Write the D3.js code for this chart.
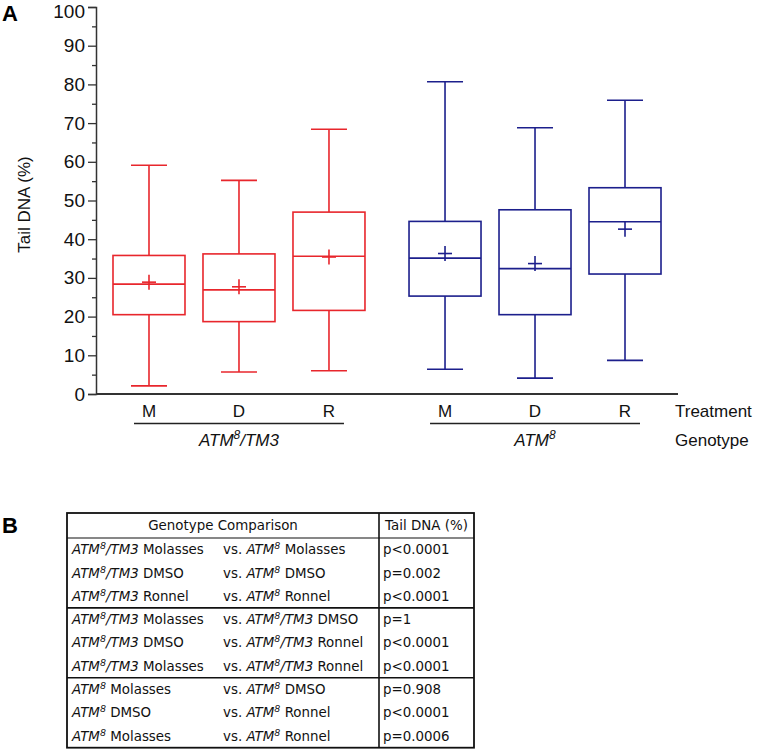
<!DOCTYPE html>
<html>
<head>
<meta charset="utf-8">
<script src="https://cdn.jsdelivr.net/npm/d3@7"></script>
<style>
  html, body { margin: 0; padding: 0; background: #fff; }
  svg { display: block; }
</style>
</head>
<body>
<svg id="chart" width="775" height="749"></svg>
<script>
// ---------- DATA ----------
const genotypes = ["ATM8/TM3", "ATM8"];
const treatments = ["M", "D", "R"];
const boxGenotype = ["ATM8/TM3", "ATM8/TM3", "ATM8/TM3", "ATM8", "ATM8", "ATM8"];
const boxTreatment = ["M", "D", "R", "M", "D", "R"];
const whiskerLow = [2.1, 5.7, 6.0, 6.4, 4.1, 8.7];
const q1Values = [20.5, 18.7, 21.6, 25.3, 20.5, 31.0];
const medianValues = [28.4, 26.9, 35.6, 35.1, 32.4, 44.5];
const q3Values = [35.8, 36.2, 47.0, 44.6, 47.6, 53.3];
const whiskerHigh = [59.1, 55.2, 68.4, 80.7, 68.8, 75.9];
const meanValues = [28.9, 27.7, 35.4, 36.3, 33.7, 42.6];
const yTicks = [0, 10, 20, 30, 40, 50, 60, 70, 80, 90, 100];
const yMinorTicks = [5, 15, 25, 35, 45, 55, 65, 75, 85, 95];

// Table data
const leftGenotype = ["ATM8/TM3", "ATM8/TM3", "ATM8/TM3", "ATM8/TM3", "ATM8/TM3", "ATM8/TM3", "ATM8", "ATM8", "ATM8"];
const leftTreatment = ["Molasses", "DMSO", "Ronnel", "Molasses", "DMSO", "Molasses", "Molasses", "DMSO", "Molasses"];
const rightGenotype = ["ATM8", "ATM8", "ATM8", "ATM8/TM3", "ATM8/TM3", "ATM8/TM3", "ATM8", "ATM8", "ATM8"];
const rightTreatment = ["Molasses", "DMSO", "Ronnel", "DMSO", "Ronnel", "Ronnel", "DMSO", "Ronnel", "Ronnel"];
const pValues = ["p<0.0001", "p=0.002", "p<0.0001", "p=1", "p<0.0001", "p<0.0001", "p=0.908", "p<0.0001", "p=0.0006"];

// ---------- STYLE ----------
const colors = { "ATM8/TM3": "#e8262c", "ATM8": "#1c1f8c" };
const axisColor = "#333";
const chartFont = "'Liberation Sans', Arial, sans-serif";
const tableFont = "'DejaVu Sans', Verdana, sans-serif";

const svg = d3.select("#chart");
svg.append("rect").attr("width", 775).attr("height", 749).attr("fill", "#fff");

// ---------- SCALES ----------
const y = d3.scaleLinear().domain([0, 100]).range([394, 7]);
const xGroup = d3.scaleBand().domain(genotypes).range([104, 670]).paddingInner(0.088).paddingOuter(0);
const xInner = d3.scaleBand().domain(treatments).range([0, xGroup.bandwidth()]).paddingInner(0.2).paddingOuter(0.1);

const axisLeftX = 96, axisRightX = 678;

// ---------- AXES ----------
const yAxis = d3.axisLeft(y).tickValues(yTicks).tickSize(8).tickPadding(3).tickFormat(d3.format("d"));
const gy = svg.append("g").attr("transform", `translate(${axisLeftX},0)`).call(yAxis);
gy.select(".domain").attr("stroke", axisColor).attr("stroke-width", 1.5);
gy.selectAll(".tick line").attr("stroke", axisColor).attr("stroke-width", 1.3);
gy.selectAll(".tick text").attr("font-family", chartFont).attr("font-size", 19).attr("fill", "#111")
  .attr("dy", d => d === 100 ? "0.55em" : "0.32em");

const yMinor = d3.axisLeft(y).tickValues(yMinorTicks).tickSize(4).tickFormat("");
const gym = svg.append("g").attr("transform", `translate(${axisLeftX},0)`).call(yMinor);
gym.select(".domain").remove();
gym.selectAll(".tick line").attr("stroke", axisColor).attr("stroke-width", 1.3);

// x axis line
svg.append("line")
  .attr("x1", axisLeftX).attr("x2", axisRightX)
  .attr("y1", y(0)).attr("y2", y(0))
  .attr("stroke", axisColor).attr("stroke-width", 1.8);

// Y label
svg.append("text")
  .attr("transform", `translate(30,${(y(0) + y(100)) / 2 + 4}) rotate(-90)`)
  .attr("text-anchor", "middle")
  .attr("font-family", chartFont).attr("font-size", 17).attr("fill", "#111")
  .text("Tail DNA (%)");

// Panel letters
svg.append("text").attr("x", 2).attr("y", 21).attr("font-family", chartFont)
  .attr("font-weight", "bold").attr("font-size", 22).attr("fill", "#000").text("A");
svg.append("text").attr("x", 2).attr("y", 533).attr("font-family", chartFont)
  .attr("font-weight", "bold").attr("font-size", 22).attr("fill", "#000").text("B");

// ---------- BOXES ----------
const boxes = boxGenotype.map((g, i) => ({
  g, t: boxTreatment[i], lo: whiskerLow[i], q1: q1Values[i], med: medianValues[i],
  q3: q3Values[i], hi: whiskerHigh[i], mean: meanValues[i]
}));

const bw = xInner.bandwidth();
const boxG = svg.append("g").selectAll("g").data(boxes).join("g")
  .attr("transform", d => `translate(${xGroup(d.g) + xInner(d.t)},0)`)
  .attr("stroke", d => colors[d.g]).attr("stroke-width", 1.6).attr("fill", "none");

// whiskers
boxG.append("line").attr("x1", bw / 2).attr("x2", bw / 2).attr("y1", d => y(d.hi)).attr("y2", d => y(d.q3));
boxG.append("line").attr("x1", bw / 2).attr("x2", bw / 2).attr("y1", d => y(d.q1)).attr("y2", d => y(d.lo));
// caps
boxG.append("line").attr("x1", bw / 4).attr("x2", bw * 3 / 4).attr("y1", d => y(d.hi)).attr("y2", d => y(d.hi));
boxG.append("line").attr("x1", bw / 4).attr("x2", bw * 3 / 4).attr("y1", d => y(d.lo)).attr("y2", d => y(d.lo));
// box
boxG.append("rect").attr("x", 0).attr("width", bw)
  .attr("y", d => y(d.q3)).attr("height", d => y(d.q1) - y(d.q3));
// median
boxG.append("line").attr("x1", 0).attr("x2", bw).attr("y1", d => y(d.med)).attr("y2", d => y(d.med));
// mean plus
boxG.append("line").attr("x1", bw / 2 - 7).attr("x2", bw / 2 + 7).attr("y1", d => y(d.mean)).attr("y2", d => y(d.mean));
boxG.append("line").attr("x1", bw / 2).attr("x2", bw / 2).attr("y1", d => y(d.mean) - 7.5).attr("y2", d => y(d.mean) + 7.5);

// genotype text helper: italic name with superscript allele "8", then optional plain suffix
function addGenotype(textSel, g, suffix, supSize, shift) {
  const parts = g.split("8");
  textSel.append("tspan").attr("font-style", "italic").text(parts[0]);
  textSel.append("tspan").attr("font-style", "italic").attr("font-size", supSize).attr("dy", -shift).text("8");
  let returned = false;
  if (parts[1]) {
    textSel.append("tspan").attr("font-style", "italic").attr("dy", shift).text(parts[1]);
    returned = true;
  }
  if (suffix) {
    const s = textSel.append("tspan").text(suffix);
    if (!returned) s.attr("dy", shift);
  }
}

// ---------- X LABELS ----------
const labelG = svg.append("g").attr("font-family", chartFont).attr("fill", "#111");
genotypes.forEach(g => {
  treatments.forEach(t => {
    labelG.append("text")
      .attr("x", xGroup(g) + xInner(t) + bw / 2).attr("y", 417)
      .attr("text-anchor", "middle").attr("font-size", 17).text(t);
  });
  const gx0 = xGroup(g) + 30, gx1 = xGroup(g) + xGroup.bandwidth() - 30;
  svg.append("line").attr("x1", gx0).attr("x2", gx1).attr("y1", 423.5).attr("y2", 423.5)
    .attr("stroke", "#222").attr("stroke-width", 1.5);
  const gt = labelG.append("text")
    .attr("x", (gx0 + gx1) / 2).attr("y", 446)
    .attr("text-anchor", "middle").attr("font-size", 17);
  addGenotype(gt, g, "", 12, 7);
});
labelG.append("text").attr("x", 675).attr("y", 417).attr("font-size", 17).text("Treatment");
labelG.append("text").attr("x", 675).attr("y", 446).attr("font-size", 17).text("Genotype");

// ---------- TABLE ----------
const tLeft = 67, tDiv = 379, tRight = 474, tTop = 513, headBottom = 538, rowH = 23.3;
const rowY = d3.scaleLinear().domain([0, pValues.length]).range([headBottom, headBottom + rowH * pValues.length]);
const tBottom = rowY(pValues.length);
const tg = svg.append("g").attr("font-family", tableFont).attr("font-size", 13.4).attr("fill", "#111");

// borders
tg.append("rect").attr("x", tLeft).attr("y", tTop).attr("width", tRight - tLeft).attr("height", tBottom - tTop)
  .attr("fill", "none").attr("stroke", "#111").attr("stroke-width", 1.8);
tg.append("line").attr("x1", tDiv).attr("x2", tDiv).attr("y1", tTop).attr("y2", tBottom)
  .attr("stroke", "#111").attr("stroke-width", 1.6);
[0, 3, 6].forEach(r => {
  tg.append("line").attr("x1", tLeft).attr("x2", tRight).attr("y1", rowY(r)).attr("y2", rowY(r))
    .attr("stroke", "#111").attr("stroke-width", r === 0 ? 1.2 : 1.6);
});

// header
tg.append("text").attr("x", (tLeft + tDiv) / 2).attr("y", (tTop + headBottom) / 2 + 4.6)
  .attr("text-anchor", "middle").text("Genotype Comparison");
tg.append("text").attr("x", (tDiv + tRight) / 2).attr("y", (tTop + headBottom) / 2 + 4.6)
  .attr("text-anchor", "middle").text("Tail DNA (%)");

pValues.forEach((p, i) => {
  const cy = (rowY(i) + rowY(i + 1)) / 2 + 4.6;
  const t1 = tg.append("text").attr("x", 72).attr("y", cy);
  addGenotype(t1, leftGenotype[i], " " + leftTreatment[i], 9.5, 5);
  const t2 = tg.append("text").attr("x", 223).attr("y", cy);
  t2.append("tspan").text("vs. ");
  addGenotype(t2, rightGenotype[i], " " + rightTreatment[i], 9.5, 5);
  tg.append("text").attr("x", 383).attr("y", cy).text(p);
});
</script>
</body>
</html>
